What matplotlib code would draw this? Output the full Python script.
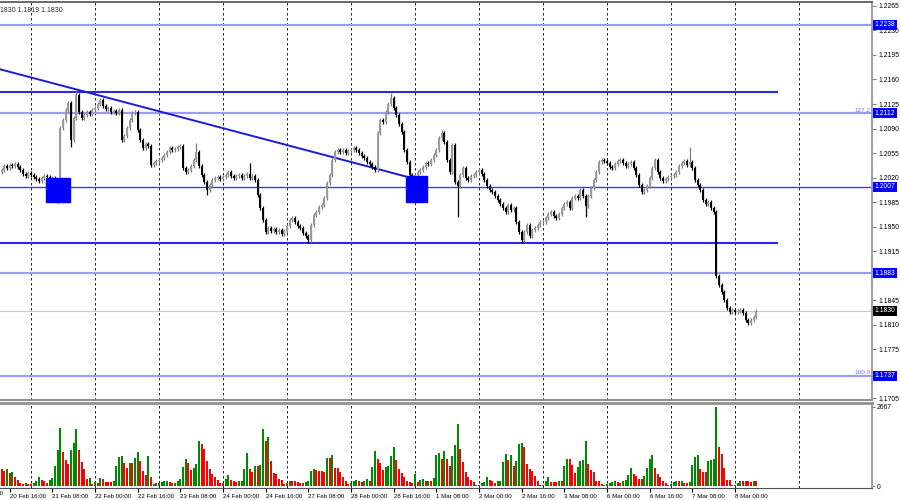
import matplotlib
matplotlib.use("Agg")
import matplotlib.pyplot as plt
from matplotlib.patches import Rectangle
import numpy as np

plt.rcParams["font.family"] = ["Liberation Sans", "DejaVu Sans"]

# EURUSD H1, 20 Feb 13:00 .. 8 Mar 08:00 (weekend hours skipped)
close_20feb = [1.2031, 1.2036, 1.2034, 1.2038, 1.2036, 1.2039, 1.2035, 1.2031, 1.2025, 1.2022, 1.2026]
close_21feb = [1.2024, 1.2021, 1.2018, 1.2015, 1.2019, 1.2022, 1.2021, 1.2016, 1.2019, 1.2005, 1.1995, 1.2091,
               1.2102, 1.2116, 1.2127, 1.2074, 1.2105, 1.2138, 1.2114, 1.2105, 1.2109, 1.2114, 1.2111, 1.2116]
close_22feb = [1.2119, 1.2125, 1.2131, 1.2122, 1.2118, 1.2119, 1.2114, 1.2115, 1.2112, 1.2116, 1.2074, 1.2079,
               1.2091, 1.2102, 1.2112, 1.2114, 1.2088, 1.2074, 1.2062, 1.2068, 1.2065, 1.2038, 1.2041, 1.2044]
close_23feb = [1.2045, 1.2048, 1.2052, 1.2056, 1.2062, 1.2059, 1.2061, 1.2064, 1.2065, 1.2034, 1.2028, 1.2031,
               1.2036, 1.2045, 1.2056, 1.2036, 1.2024, 1.2014, 1.2002, 1.2009, 1.2016, 1.2019, 1.2021, 1.2018]
close_24feb = [1.2021, 1.2024, 1.2028, 1.2022, 1.2019, 1.2022, 1.2024, 1.2019, 1.2022, 1.2025, 1.2019, 1.2022,
               1.2016, 1.1995, 1.1976, 1.1959, 1.1942, 1.1948, 1.1944, 1.1946, 1.1942, 1.1945, 1.1939, 1.1944]
close_27feb = [1.1951, 1.1959, 1.1962, 1.1956, 1.1951, 1.1948, 1.1941, 1.1936, 1.1931, 1.1952, 1.1966, 1.1971,
               1.1978, 1.1981, 1.1991, 1.2012, 1.2024, 1.2045, 1.2056, 1.2059, 1.2056, 1.2059, 1.2055, 1.2058]
close_28feb = [1.2059, 1.2062, 1.2059, 1.2055, 1.2051, 1.2048, 1.2042, 1.2039, 1.2035, 1.2031, 1.2084, 1.2102,
               1.2099, 1.2114, 1.2125, 1.2134, 1.2119, 1.2109, 1.2097, 1.2085, 1.2059, 1.2042, 1.2024, 1.2016]
close_01mar = [1.2024, 1.2028, 1.2031, 1.2035, 1.2041, 1.2039, 1.2045, 1.2052, 1.2059, 1.2076, 1.2084, 1.2071,
               1.2045, 1.2028, 1.2066, 1.2014, 1.2008, 1.2024, 1.2034, 1.2019, 1.2016, 1.2022, 1.2024, 1.2028]
close_02mar = [1.2031, 1.2025, 1.2016, 1.2008, 1.2002, 1.1999, 1.1994, 1.1988, 1.1982, 1.1976, 1.1971, 1.1981,
               1.1974, 1.1976, 1.1956, 1.1942, 1.1931, 1.1942, 1.1952, 1.1936, 1.1945, 1.1948, 1.1952, 1.1956]
close_03mar = [1.1956, 1.1962, 1.1968, 1.1971, 1.1965, 1.1962, 1.1968, 1.1976, 1.1982, 1.1985, 1.1976, 1.1991,
               1.1994, 1.1991, 1.2002, 1.1994, 1.1979, 1.1994, 1.2005, 1.2016, 1.2028, 1.2042, 1.2045, 1.2044]
close_06mar = [1.2041, 1.2035, 1.2034, 1.2039, 1.2044, 1.2045, 1.2041, 1.2036, 1.2039, 1.2042, 1.2034, 1.2024,
               1.2009, 1.1999, 1.2002, 1.2008, 1.2019, 1.2034, 1.2045, 1.2028, 1.2019, 1.2015, 1.2018, 1.2021]
close_07mar = [1.2022, 1.2024, 1.2028, 1.2036, 1.2041, 1.2044, 1.2038, 1.2042, 1.2034, 1.2016, 1.2009, 1.2002,
               1.1988, 1.1982, 1.1985, 1.1976, 1.1971, 1.1879, 1.1867, 1.1857, 1.1845, 1.1834, 1.1828, 1.1831]
close_08mar = [1.1828, 1.1829, 1.1831, 1.1827, 1.1817, 1.1812, 1.1817, 1.1821, 1.1830]
first_open = 1.2028

# long shadows that stand out (bar index -> price)
spike_high = {28: 1.2145, 73: 1.2069, 93: 1.2041, 146: 1.2141, 165: 1.2088, 258: 1.2064}
spike_low = {21: 1.1984, 26: 1.2063, 77: 1.1995, 115: 1.1926, 171: 1.1964, 195: 1.1926, 219: 1.1964}

vol_20feb = [590, 510, 577, 444, 466, 310, 200, 111, 67, 89, 67]
vol_21feb = [55, 89, 178, 289, 200, 178, 111, 200, 255, 666, 1221, 1954, 1143, 866, 755, 1199, 1443, 1909,
             1221, 799, 577, 222, 255, 55]
vol_22feb = [144, 111, 255, 222, 144, 144, 144, 178, 666, 977, 999, 777, 622, 777, 777, 955, 1132, 844,
             511, 366, 999, 311, 55, 89]
vol_23feb = [111, 144, 166, 178, 144, 89, 111, 178, 222, 644, 921, 777, 555, 599, 733, 1510, 1421, 1254,
             844, 588, 422, 289, 200, 111]
vol_24feb = [89, 222, 366, 200, 178, 144, 155, 178, 588, 1110, 588, 488, 666, 666, 699, 1920, 1532, 1665,
             844, 444, 400, 222, 200, 67]
vol_27feb = [89, 178, 155, 155, 144, 111, 89, 133, 178, 511, 577, 555, 511, 511, 488, 955, 955, 1043,
             622, 622, 466, 289, 155, 67]
vol_28feb = [89, 178, 200, 178, 144, 178, 222, 178, 644, 1177, 921, 777, 555, 644, 688, 1021, 1332, 888,
             577, 444, 289, 178, 144, 89]
vol_01mar = [422, 144, 200, 222, 155, 178, 178, 255, 1032, 1110, 921, 1177, 921, 678, 1023, 1369, 2081, 1254,
             794, 472, 299, 219, 138, 46]
vol_02mar = [23, 104, 138, 299, 219, 161, 104, 161, 184, 794, 1081, 874, 1047, 678, 851, 1403, 1461, 1311,
             759, 564, 506, 334, 184, 46]
vol_03mar = [23, 161, 299, 138, 138, 138, 184, 184, 678, 909, 909, 713, 449, 644, 851, 874, 1518, 736,
             552, 483, 184, 184, 69, 23]
vol_06mar = [69, 115, 138, 184, 138, 104, 161, 219, 368, 598, 414, 334, 253, 253, 334, 621, 909, 1047,
             598, 391, 299, 161, 104, 23]
vol_07mar = [69, 138, 161, 161, 184, 104, 104, 138, 713, 966, 1047, 564, 483, 483, 828, 874, 909, 2667,
             1311, 1081, 598, 219, 219, 46]
vol_08mar = [23, 104, 184, 161, 161, 161, 138, 161, 161]

# horizontal levels
full_levels = [1.2238, 1.2112, 1.2007, 1.1883, 1.1737]
bold_levels = [1.2142, 1.1926]
fib_marks = {1.2112: "127.2", 1.1737: "100.0"}
last_price = 1.1830
trend_pts = [(-1, 1.2175), (152, 1.2021)]
zones = [(16.6, 25.6, 1.1985, 1.2019), (151.6, 159.5, 1.1985, 1.2022)]

# time axis: bar index -> label, day separators
tick_idx = [3, 19, 35, 51, 67, 83, 99, 115, 131, 147, 163, 179, 195, 211, 227, 243, 259, 275]
tick_lab = ["20 Feb 16:00", "21 Feb 08:00", "22 Feb 00:00", "22 Feb 16:00", "23 Feb 08:00",
            "24 Feb 00:00", "24 Feb 16:00", "27 Feb 08:00", "28 Feb 00:00", "28 Feb 16:00", "1 Mar 08:00",
            "2 Mar 00:00", "2 Mar 16:00", "3 Mar 08:00", "6 Mar 00:00", "6 Mar 16:00", "7 Mar 08:00",
            "8 Mar 00:00"]
cut_label = (-13, "20 Feb 00:00")
day_idx = [11, 35, 59, 83, 107, 131, 155, 179, 203, 227, 251, 275, 299]
hidden_ticks = [1.1880, 1.1740]

closes = np.array(close_20feb + close_21feb + close_22feb + close_23feb + close_24feb + close_27feb
                  + close_28feb + close_01mar + close_02mar + close_03mar + close_06mar + close_07mar
                  + close_08mar)
vols = np.array(vol_20feb + vol_21feb + vol_22feb + vol_23feb + vol_24feb + vol_27feb + vol_28feb
                + vol_01mar + vol_02mar + vol_03mar + vol_06mar + vol_07mar + vol_08mar)
opens = np.concatenate([[first_open], closes[:-1]])
n = len(closes)
x = np.arange(n)
pad = 0.00028
highs = np.maximum(opens, closes) + pad
lows = np.minimum(opens, closes) - pad
for i, v in spike_high.items():
    highs[i] = v
for i, v in spike_low.items():
    lows[i] = v

W, H = 900, 500
fig = plt.figure(figsize=(9, 5), dpi=100)
fig.patch.set_facecolor("white")
ax = fig.add_axes([0, 1 - 400 / H, 872 / W, 398 / H])
axv = fig.add_axes([0, 1 - 488 / H, 872 / W, 85 / H])

xlim = (-0.62, -0.62 + 872 / 2.667)
for a in (ax, axv):
    a.set_xlim(*xlim)
    for d in day_idx:
        a.axvline(d, color="black", lw=0.6, ls=(0, (3, 3)), zorder=0)
    a.spines["left"].set_visible(False)
    a.spines["right"].set_color("#a0a0a0")
    a.spines["right"].set_linewidth(1.5)

ax.set_ylim(1.17022, 1.22707)
ax.spines["top"].set_color("#505050")
ax.spines["top"].set_linewidth(1.2)
ax.spines["bottom"].set_color("#909090")
ax.spines["bottom"].set_linewidth(1.5)

# levels
for lv in full_levels:
    ax.axhline(lv, color="#3c3cff" if lv == 1.2007 else "#9c9cf4",
               lw=1.0 if lv == 1.2007 else 1.6, zorder=1)
for lv in bold_levels:
    ax.plot([xlim[0], 290.7], [lv, lv], color="#2a2ae6", lw=1.5, zorder=1)
ax.axhline(last_price, color="#c8c8c8", lw=0.8, zorder=1)
ax.plot([p[0] for p in trend_pts], [p[1] for p in trend_pts], color="#1c1cd8", lw=1.4, zorder=1)
for x0, x1, y0, y1 in zones:
    ax.add_patch(Rectangle((x0, y0), x1 - x0, y1 - y0, color="#0000ff", zorder=4))

# candles
up = closes >= opens
ax.vlines(x[up], lows[up], highs[up], color="#7c7c7c", lw=0.9, zorder=2)
ax.vlines(x[~up], lows[~up], highs[~up], color="#000000", lw=0.9, zorder=2)
body = np.maximum(np.abs(closes - opens), 0.0001)
ax.bar(x[up], body[up], bottom=np.minimum(opens, closes)[up], width=0.8, color="#9a9a9a", zorder=3)
ax.bar(x[~up], body[~up], bottom=np.minimum(opens, closes)[~up], width=0.8, color="#000000", zorder=3)

# price axis on the right
ax.yaxis.tick_right()
yt = np.round(np.arange(1.1705, 1.2266, 0.0035), 4)
ax.set_yticks(yt)
ax.set_yticklabels(["" if v in hidden_ticks else "%.4f" % v for v in yt])
ax.tick_params(axis="y", labelsize=4.9, length=3, color="#808080", pad=1.5)
ax.set_xticks([])

ytr = ax.get_yaxis_transform()
for lv in full_levels:
    ax.text(1.003, lv, "%.4f" % lv, transform=ytr, ha="left", va="center", fontsize=4.9, color="white",
            zorder=6, clip_on=False,
            bbox=dict(boxstyle="square,pad=0.22", fc="#0000ff", ec="none"))
ax.text(1.003, last_price, "%.4f" % last_price, transform=ytr, ha="left", va="center", fontsize=4.9,
        color="white", zorder=6, clip_on=False,
        bbox=dict(boxstyle="square,pad=0.22", fc="#000000", ec="none"))
for lv, t in fib_marks.items():
    ax.text(0.998, lv + 0.00005, t, transform=ytr, ha="right", va="bottom", fontsize=4.6, color="#7878ff")

ax.text(0.0, 0.988, "1830 1.1819 1.1830", transform=ax.transAxes, fontsize=5, color="#303030",
        ha="left", va="top")

# volumes, green when higher than previous bar
vcol = ["#008a00" if i > 0 and vols[i] > vols[i - 1] else "#ff0000" for i in range(n)]
axv.bar(x, vols, width=0.8, color=vcol, zorder=2)
axv.set_ylim(-67, 2802)
axv.spines["top"].set_color("#909090")
axv.spines["top"].set_linewidth(2)
axv.spines["bottom"].set_color("#505050")
axv.yaxis.tick_right()
axv.set_yticks([0, 2667])
axv.set_yticklabels(["0", "2667"])
axv.tick_params(axis="y", labelsize=4.9, length=2, color="#808080", pad=1.5)
axv.set_xticks(tick_idx)
axv.set_xticklabels(tick_lab)
axv.tick_params(axis="x", labelsize=4.4, length=3, pad=1.5)
for lab in axv.get_xticklabels():
    lab.set_horizontalalignment("left")
axv.text(cut_label[0], -0.035, cut_label[1], transform=axv.get_xaxis_transform(), ha="left", va="top",
         fontsize=4.4, clip_on=False)

fig.savefig("out.png", dpi=100)
